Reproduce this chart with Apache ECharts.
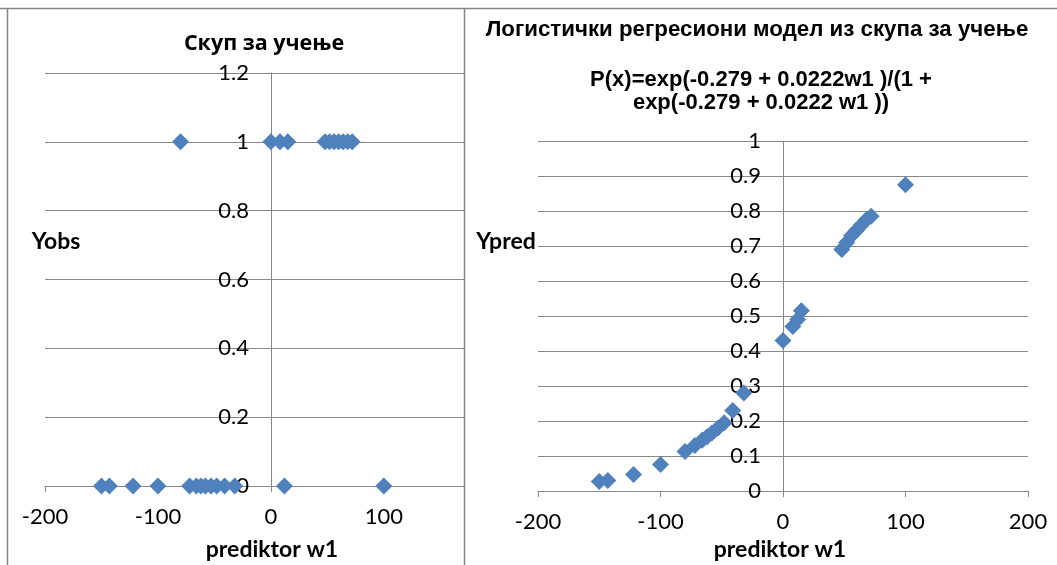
<!DOCTYPE html>
<html>
<head>
<meta charset="utf-8">
<script src="https://cdn.jsdelivr.net/npm/echarts@6/dist/echarts.min.js"></script>
<style>
html, body { margin: 0; padding: 0; background: #fff; }
#main { width: 1057px; height: 565px; }
</style>
</head>
<body>
<div id="main"></div>
<script>
// predictor values (same points in both charts)
var w1 = [-150, -143, -122, -100, -80, -72, -66, -62, -58, -53, -48, -41, -32,
          0, 8, 12, 15, 48, 52, 56, 60, 64, 68, 72, 100];
// observed class, left chart
var yObs = [0, 0, 0, 0, 1, 0, 0, 0, 0, 0, 0, 0, 0,
            1, 1, 0, 1, 1, 1, 1, 1, 1, 1, 1, 0];
// predicted probability, right chart
var yPred = [0.027, 0.03, 0.047, 0.076, 0.113, 0.13, 0.145, 0.155, 0.166, 0.18, 0.195, 0.23, 0.28,
             0.43, 0.47, 0.49, 0.515, 0.69, 0.71, 0.73, 0.745, 0.76, 0.775, 0.785, 0.875];

var leftXTicks = [-200, -100, 0, 100];
var rightXTicks = [-200, -100, 0, 100, 200];
var leftYTicks = [0, 0.2, 0.4, 0.6, 0.8, 1, 1.2];
var rightYTicks = [0, 0.1, 0.2, 0.3, 0.4, 0.5, 0.6, 0.7, 0.8, 0.9, 1];

var titleLeft = 'Скуп за учење';
var titleRight = 'Логистички регресиони модел из скупа за учење';
var formula1 = 'P(x)=exp(-0.279 + 0.0222w1 )/(1 +';
var formula2 = 'exp(-0.279 + 0.0222 w1 ))';

var gray = '#878787';
var blue = '#4F81BD';
var numFont = 'Lato';

var obsData = w1.map(function (x, i) { return [x, yObs[i]]; });
var predData = w1.map(function (x, i) { return [x, yPred[i]]; });

function xAxisOf(idx, ticks, max) {
    return {
        type: 'value', gridIndex: idx,
        min: ticks[0], max: max, interval: 100,
        axisLine: { show: true, onZero: false, lineStyle: { color: gray, width: 1 } },
        axisTick: { show: true, length: 6, lineStyle: { color: gray } },
        axisLabel: { color: '#000', fontFamily: numFont, fontSize: 22, margin: 20, showMaxLabel: max === ticks[ticks.length - 1] },
        splitLine: { show: false }
    };
}
// y axis sits at w1 = 0, so shift it right by the pixel offset of zero
function yAxisOf(idx, ticks, step, shift) {
    return {
        type: 'value', gridIndex: idx,
        min: ticks[0], max: ticks[ticks.length - 1], interval: step,
        offset: -shift,
        axisLine: { show: true, onZero: false, lineStyle: { color: gray, width: 1 } },
        axisTick: { show: true, inside: false, length: 6, lineStyle: { color: gray } },
        axisLabel: { color: '#000', fontFamily: numFont, fontSize: 22, margin: 22 },
        splitLine: { show: true, lineStyle: { color: gray, width: 1 } }
    };
}

function txt(x, y, s, font, size) {
    return {
        type: 'text', x: x, y: y, z: 100,
        style: { text: s, fill: '#000', font: 'bold ' + size + 'px ' + font, align: 'center', verticalAlign: 'middle' }
    };
}
function ln(x1, y1, x2, y2) {
    return { type: 'line', z: 100, shape: { x1: x1, y1: y1, x2: x2, y2: y2 }, style: { stroke: gray, lineWidth: 1.5 } };
}

var chart = echarts.init(document.getElementById('main'));
chart.setOption({
    animation: false,
    grid: [
        { left: 45, top: 73, width: 419, height: 413 },
        { left: 538, top: 141, width: 490, height: 350 }
    ],
    xAxis: [xAxisOf(0, leftXTicks, 171), xAxisOf(1, rightXTicks, 200)],
    yAxis: [yAxisOf(0, leftYTicks, 0.2, 226), yAxisOf(1, rightYTicks, 0.1, 245)],
    graphic: [
        ln(0, 8.5, 1057, 8.5),
        ln(7.5, 8, 7.5, 565),
        ln(464.5, 8, 464.5, 565),
        txt(264, 44, titleLeft, 'Open Sans', 21.5),
        txt(757, 30, titleRight, 'Liberation Sans', 22.3),
        txt(761, 80, formula1, 'Liberation Sans', 22),
        txt(761, 103, formula2, 'Liberation Sans', 22),
        txt(56, 242, 'Yobs', 'Lato', 23),
        txt(506, 242, 'Ypred', 'Lato', 23),
        txt(272, 550, 'prediktor w1', 'Lato', 23),
        txt(780, 550, 'prediktor w1', 'Lato', 23)
    ],
    series: [
        {
            type: 'scatter', xAxisIndex: 0, yAxisIndex: 0,
            symbol: 'diamond', symbolSize: 17,
            itemStyle: { color: blue, opacity: 1 },
            data: obsData
        },
        {
            type: 'scatter', xAxisIndex: 1, yAxisIndex: 1,
            symbol: 'diamond', symbolSize: 17,
            itemStyle: { color: blue, opacity: 1 },
            data: predData
        }
    ]
});
</script>
</body>
</html>
